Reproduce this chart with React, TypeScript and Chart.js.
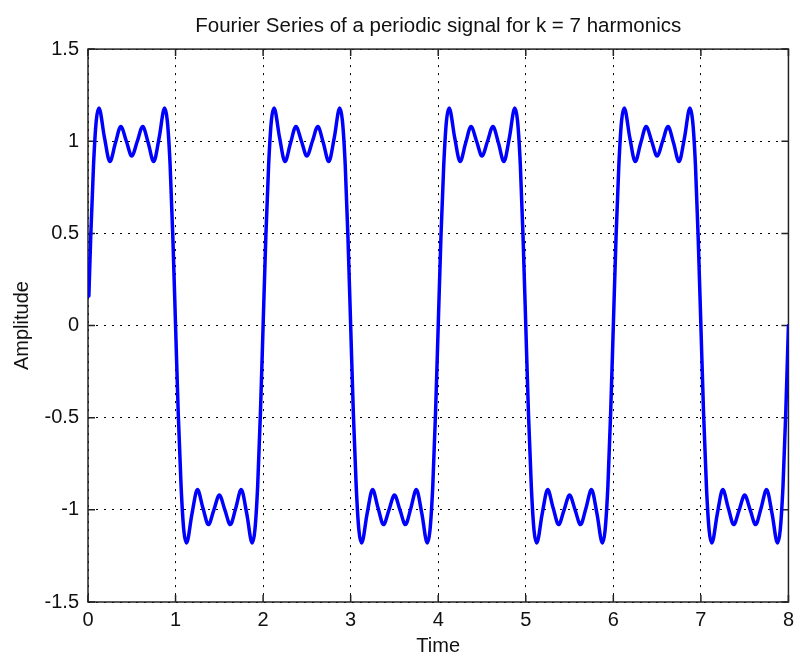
import { useEffect, useRef } from "react";
import { Chart, registerables } from "chart.js";

Chart.register(...registerables);

// Fourier partial sum of a square wave (odd harmonics up to k = 7), sampled along the time axis.
const timeValues = [
  0.01, 0.031, 0.063, 0.094, 0.125, 0.188, 0.25, 0.313, 0.375, 0.438, 0.5, 0.563, 0.625, 0.688, 0.75, 0.813, 0.875, 0.906, 0.938, 0.969,
  1, 1.031, 1.063, 1.094, 1.125, 1.188, 1.25, 1.313, 1.375, 1.438, 1.5, 1.563, 1.625, 1.688, 1.75, 1.813, 1.875, 1.906, 1.938, 1.969,
  2, 2.031, 2.063, 2.094, 2.125, 2.188, 2.25, 2.313, 2.375, 2.438, 2.5, 2.563, 2.625, 2.688, 2.75, 2.813, 2.875, 2.906, 2.938, 2.969,
  3, 3.031, 3.063, 3.094, 3.125, 3.188, 3.25, 3.313, 3.375, 3.438, 3.5, 3.563, 3.625, 3.688, 3.75, 3.813, 3.875, 3.906, 3.938, 3.969,
  4, 4.031, 4.063, 4.094, 4.125, 4.188, 4.25, 4.313, 4.375, 4.438, 4.5, 4.563, 4.625, 4.688, 4.75, 4.813, 4.875, 4.906, 4.938, 4.969,
  5, 5.031, 5.063, 5.094, 5.125, 5.188, 5.25, 5.313, 5.375, 5.438, 5.5, 5.563, 5.625, 5.688, 5.75, 5.813, 5.875, 5.906, 5.938, 5.969,
  6, 6.031, 6.063, 6.094, 6.125, 6.188, 6.25, 6.313, 6.375, 6.438, 6.5, 6.563, 6.625, 6.688, 6.75, 6.813, 6.875, 6.906, 6.938, 6.969,
  7, 7.031, 7.063, 7.094, 7.125, 7.188, 7.25, 7.313, 7.375, 7.438, 7.5, 7.563, 7.625, 7.688, 7.75, 7.813, 7.875, 7.906, 7.938, 7.969,
  8,
];

const amplitudeValues = [
  0.16, 0.48, 0.87, 1.11, 1.18, 1.02, 0.89, 0.99, 1.08, 1.0, 0.92, 1.0, 1.08, 0.99, 0.89, 1.02, 1.18, 1.11, 0.87, 0.48,
  0, -0.48, -0.87, -1.11, -1.18, -1.02, -0.89, -0.99, -1.08, -1.0, -0.92, -1.0, -1.08, -0.99, -0.89, -1.02, -1.18, -1.11, -0.87, -0.48,
  0, 0.48, 0.87, 1.11, 1.18, 1.02, 0.89, 0.99, 1.08, 1.0, 0.92, 1.0, 1.08, 0.99, 0.89, 1.02, 1.18, 1.11, 0.87, 0.48,
  0, -0.48, -0.87, -1.11, -1.18, -1.02, -0.89, -0.99, -1.08, -1.0, -0.92, -1.0, -1.08, -0.99, -0.89, -1.02, -1.18, -1.11, -0.87, -0.48,
  0, 0.48, 0.87, 1.11, 1.18, 1.02, 0.89, 0.99, 1.08, 1.0, 0.92, 1.0, 1.08, 0.99, 0.89, 1.02, 1.18, 1.11, 0.87, 0.48,
  0, -0.48, -0.87, -1.11, -1.18, -1.02, -0.89, -0.99, -1.08, -1.0, -0.92, -1.0, -1.08, -0.99, -0.89, -1.02, -1.18, -1.11, -0.87, -0.48,
  0, 0.48, 0.87, 1.11, 1.18, 1.02, 0.89, 0.99, 1.08, 1.0, 0.92, 1.0, 1.08, 0.99, 0.89, 1.02, 1.18, 1.11, 0.87, 0.48,
  0, -0.48, -0.87, -1.11, -1.18, -1.02, -0.89, -0.99, -1.08, -1.0, -0.92, -1.0, -1.08, -0.99, -0.89, -1.02, -1.18, -1.11, -0.87, -0.48,
  0,
];

const xTickValues = [0, 1, 2, 3, 4, 5, 6, 7, 8];
const xTickLabels = ["0", "1", "2", "3", "4", "5", "6", "7", "8"];
const yTickValues = [-1.5, -1, -0.5, 0, 0.5, 1, 1.5];
const yTickLabels = ["-1.5", "-1", "-0.5", "0", "0.5", "1", "1.5"];

const chartTitle = "Fourier Series of a periodic signal for k = 7 harmonics";
const xAxisTitle = "Time";
const yAxisTitle = "Amplitude";

const FONT_FAMILY = "'Liberation Sans', Arial, Helvetica, sans-serif";
const TEXT_COLOR = "#111111";
const AXIS_COLOR = "#222222";
const TICK_LEN = 7;

// Axes box with inward tick marks on all four sides.
const axesFrame = {
  id: "axesFrame",
  beforeDatasetsDraw(chart: any) {
    const { ctx, chartArea: a, scales } = chart;
    const x = scales.x;
    const y = scales.y;
    ctx.save();
    ctx.strokeStyle = AXIS_COLOR;
    ctx.lineWidth = 1.5;
    ctx.strokeRect(a.left, a.top, a.right - a.left, a.bottom - a.top);
    ctx.beginPath();
    for (const v of xTickValues) {
      const px = x.getPixelForValue(v);
      ctx.moveTo(px, a.bottom);
      ctx.lineTo(px, a.bottom - TICK_LEN);
      ctx.moveTo(px, a.top);
      ctx.lineTo(px, a.top + TICK_LEN);
    }
    for (const v of yTickValues) {
      const py = y.getPixelForValue(v);
      ctx.moveTo(a.left, py);
      ctx.lineTo(a.left + TICK_LEN, py);
      ctx.moveTo(a.right, py);
      ctx.lineTo(a.right - TICK_LEN, py);
    }
    ctx.stroke();
    ctx.restore();
  },
};

export default function App() {
  const canvasRef = useRef<HTMLCanvasElement | null>(null);

  useEffect(() => {
    const canvas = canvasRef.current;
    if (!canvas) return;
    const points = timeValues.map((t, i) => ({ x: t, y: amplitudeValues[i] }));

    const chart = new Chart(canvas, {
      type: "line",
      data: {
        datasets: [
          {
            data: points,
            borderColor: "#0000ff",
            borderWidth: 3.5,
            pointRadius: 0,
            fill: false,
            cubicInterpolationMode: "monotone",
            borderJoinStyle: "round",
            borderCapStyle: "round",
          },
        ],
      },
      options: {
        responsive: false,
        devicePixelRatio: 1,
        animation: false,
        events: [],
        layout: { padding: { left: 0, right: 8, top: 0, bottom: 0 } },
        plugins: {
          legend: { display: false },
          tooltip: { enabled: false },
          title: {
            display: true,
            fullSize: false,
            text: chartTitle,
            color: TEXT_COLOR,
            font: { family: FONT_FAMILY, size: 20.5, weight: "normal" },
            padding: { top: 14, bottom: 10.5 },
          },
        },
        scales: {
          x: {
            type: "linear",
            min: 0,
            max: 8,
            afterBuildTicks: (scale: any) => {
              scale.ticks = xTickValues.map((v) => ({ value: v }));
            },
            afterFit: (scale: any) => {
              scale.height = 59;
            },
            ticks: {
              padding: 6,
              color: TEXT_COLOR,
              font: { family: FONT_FAMILY, size: 20 },
              maxRotation: 0,
              autoSkip: false,
              callback: (v: any) => xTickLabels[xTickValues.indexOf(Number(v))] ?? "",
            },
            grid: { color: "#000000", lineWidth: 1, drawTicks: false },
            border: { display: false, dash: [2, 6] },
            title: {
              display: true,
              text: xAxisTitle,
              color: TEXT_COLOR,
              font: { family: FONT_FAMILY, size: 20 },
              padding: { top: 0, bottom: 2.5 },
            },
          },
          y: {
            type: "linear",
            min: -1.5,
            max: 1.5,
            afterBuildTicks: (scale: any) => {
              scale.ticks = yTickValues.map((v) => ({ value: v }));
            },
            afterFit: (scale: any) => {
              scale.width = 88;
            },
            ticks: {
              padding: 9,
              color: TEXT_COLOR,
              font: { family: FONT_FAMILY, size: 20 },
              autoSkip: false,
              callback: (v: any) => yTickLabels[yTickValues.indexOf(Number(v))] ?? "",
            },
            grid: { color: "#000000", lineWidth: 1, drawTicks: false },
            border: { display: false, dash: [2, 6] },
            title: {
              display: true,
              text: yAxisTitle,
              color: TEXT_COLOR,
              font: { family: FONT_FAMILY, size: 20 },
              padding: { top: 10, bottom: 0 },
            },
          },
        },
      },
      plugins: [axesFrame],
    });

    return () => chart.destroy();
  }, []);

  return (
    <div style={{ position: "absolute", left: 0, top: 0, width: 800, height: 661, background: "#ffffff" }}>
      <canvas ref={canvasRef} width={800} height={661} style={{ display: "block" }} />
    </div>
  );
}
